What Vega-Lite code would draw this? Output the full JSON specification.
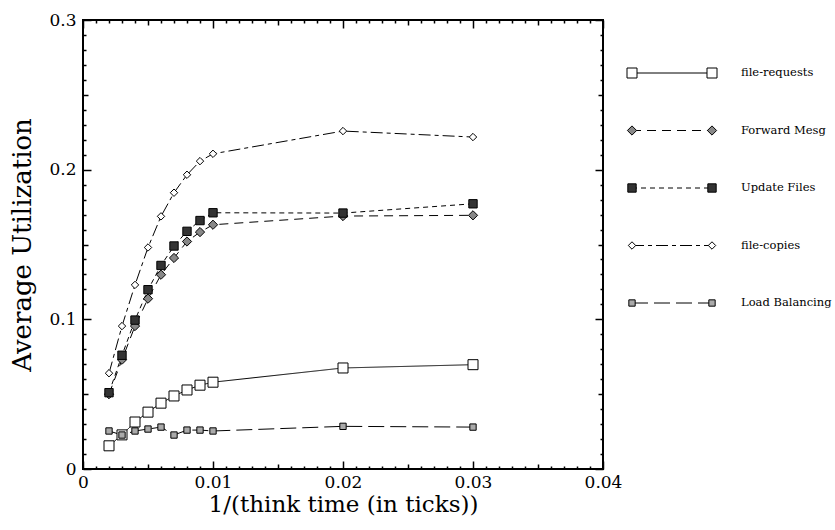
{
  "$schema": "https://vega.github.io/schema/vega-lite/v6.json",
  "background": "white",
  "padding": {"left": 8, "top": 10, "right": 5, "bottom": 5},
  "spacing": 2,
  "config": {
    "font": "DejaVu Serif",
    "view": {"stroke": "black", "strokeWidth": 2},
    "axis": {"grid": false, "domain": false, "labelColor": "black", "titleColor": "black", "tickColor": "black", "labelFont": "DejaVu Serif", "titleFont": "DejaVu Serif", "titleFontWeight": "normal"}
  },
  "datasets": {
    "util": [
      {"series": "file-requests", "x": 0.002, "y": 0.0155},
      {"series": "file-requests", "x": 0.003, "y": 0.0228},
      {"series": "file-requests", "x": 0.004, "y": 0.0314},
      {"series": "file-requests", "x": 0.005, "y": 0.038},
      {"series": "file-requests", "x": 0.006, "y": 0.044},
      {"series": "file-requests", "x": 0.007, "y": 0.0488},
      {"series": "file-requests", "x": 0.008, "y": 0.0528},
      {"series": "file-requests", "x": 0.009, "y": 0.056},
      {"series": "file-requests", "x": 0.01, "y": 0.058},
      {"series": "file-requests", "x": 0.02, "y": 0.0675},
      {"series": "file-requests", "x": 0.03, "y": 0.0697},
      {"series": "Forward Mesg", "x": 0.002, "y": 0.05},
      {"series": "Forward Mesg", "x": 0.003, "y": 0.073},
      {"series": "Forward Mesg", "x": 0.004, "y": 0.0955},
      {"series": "Forward Mesg", "x": 0.005, "y": 0.1138},
      {"series": "Forward Mesg", "x": 0.006, "y": 0.1298},
      {"series": "Forward Mesg", "x": 0.007, "y": 0.141},
      {"series": "Forward Mesg", "x": 0.008, "y": 0.152},
      {"series": "Forward Mesg", "x": 0.009, "y": 0.1583},
      {"series": "Forward Mesg", "x": 0.01, "y": 0.1632},
      {"series": "Forward Mesg", "x": 0.02, "y": 0.169},
      {"series": "Forward Mesg", "x": 0.03, "y": 0.1695},
      {"series": "Update Files", "x": 0.002, "y": 0.051},
      {"series": "Update Files", "x": 0.003, "y": 0.076},
      {"series": "Update Files", "x": 0.004, "y": 0.0995},
      {"series": "Update Files", "x": 0.005, "y": 0.1198},
      {"series": "Update Files", "x": 0.006, "y": 0.136},
      {"series": "Update Files", "x": 0.007, "y": 0.149},
      {"series": "Update Files", "x": 0.008, "y": 0.1588},
      {"series": "Update Files", "x": 0.009, "y": 0.166},
      {"series": "Update Files", "x": 0.01, "y": 0.1712},
      {"series": "Update Files", "x": 0.02, "y": 0.171},
      {"series": "Update Files", "x": 0.03, "y": 0.1772},
      {"series": "file-copies", "x": 0.002, "y": 0.064},
      {"series": "file-copies", "x": 0.003, "y": 0.0955},
      {"series": "file-copies", "x": 0.004, "y": 0.123},
      {"series": "file-copies", "x": 0.005, "y": 0.148},
      {"series": "file-copies", "x": 0.006, "y": 0.1688},
      {"series": "file-copies", "x": 0.007, "y": 0.1846},
      {"series": "file-copies", "x": 0.008, "y": 0.1966},
      {"series": "file-copies", "x": 0.009, "y": 0.2057},
      {"series": "file-copies", "x": 0.01, "y": 0.2106},
      {"series": "file-copies", "x": 0.02, "y": 0.2258},
      {"series": "file-copies", "x": 0.03, "y": 0.2218},
      {"series": "Load Balancing", "x": 0.002, "y": 0.0254},
      {"series": "Load Balancing", "x": 0.003, "y": 0.0227},
      {"series": "Load Balancing", "x": 0.004, "y": 0.0254},
      {"series": "Load Balancing", "x": 0.005, "y": 0.0267},
      {"series": "Load Balancing", "x": 0.006, "y": 0.028},
      {"series": "Load Balancing", "x": 0.007, "y": 0.0227},
      {"series": "Load Balancing", "x": 0.008, "y": 0.026},
      {"series": "Load Balancing", "x": 0.009, "y": 0.026},
      {"series": "Load Balancing", "x": 0.01, "y": 0.0254},
      {"series": "Load Balancing", "x": 0.02, "y": 0.0285},
      {"series": "Load Balancing", "x": 0.03, "y": 0.028}
    ],
    "legend": [
      {"series": "file-requests"},
      {"series": "Forward Mesg"},
      {"series": "Update Files"},
      {"series": "file-copies"},
      {"series": "Load Balancing"}
    ]
  },
  "hconcat": [
    {
      "width": 520,
      "height": 449,
      "data": {"name": "util"},
      "layer": [
        {
          "mark": {"type": "line", "color": "black", "strokeWidth": 1},
          "encoding": {
            "x": {"field": "x", "type": "quantitative", "scale": {"domain": [0, 0.04], "nice": false},
              "axis": {"orient": "top", "title": null, "labels": false, "minExtent": 0, "maxExtent": 0,
                "values": [0,0.001,0.002,0.003,0.004,0.005,0.006,0.007,0.008,0.009,0.01,0.011,0.012,0.013,0.014,0.015,0.016,0.017,0.018,0.019,0.02,0.021,0.022,0.023,0.024,0.025,0.026,0.027,0.028,0.029,0.03,0.031,0.032,0.033,0.034,0.035,0.036,0.037,0.038,0.039,0.04],
                "tickWidth": 1.5,
                "tickSize": {"condition": [{"test": "abs(datum.value*100 - round(datum.value*100)) < 0.001", "value": -8}, {"test": "abs(datum.value*200 - round(datum.value*200)) < 0.001", "value": -5}], "value": -3}}},
            "y": {"field": "y", "type": "quantitative", "scale": {"domain": [0, 0.3], "nice": false},
              "axis": {"orient": "right", "title": null, "labels": false, "minExtent": 0, "maxExtent": 0,
                "values": [0,0.01,0.02,0.03,0.04,0.05,0.06,0.07,0.08,0.09,0.1,0.11,0.12,0.13,0.14,0.15,0.16,0.17,0.18,0.19,0.2,0.21,0.22,0.23,0.24,0.25,0.26,0.27,0.28,0.29,0.3],
                "tickWidth": 1.5,
                "tickSize": {"condition": [{"test": "abs(datum.value*10 - round(datum.value*10)) < 0.001", "value": -8}, {"test": "abs(datum.value*20 - round(datum.value*20)) < 0.001", "value": -5}], "value": -3}}},
            "detail": {"field": "series"},
            "strokeDash": {"field": "series", "type": "nominal", "legend": null,
              "scale": {"domain": ["file-requests", "Forward Mesg", "Update Files", "file-copies", "Load Balancing"],
                "range": [[1, 0], [9, 6], [5, 4], [12, 4, 4, 4], [16, 6]]}}
          }
        },
        {
          "mark": {"type": "point", "filled": true, "stroke": "black", "strokeWidth": 1, "opacity": 1},
          "encoding": {
            "x": {"field": "x", "type": "quantitative",
              "axis": {"orient": "bottom", "title": "1/(think time (in ticks))", "titleFontSize": 23, "titlePadding": -2,
                "values": [0,0.001,0.002,0.003,0.004,0.005,0.006,0.007,0.008,0.009,0.01,0.011,0.012,0.013,0.014,0.015,0.016,0.017,0.018,0.019,0.02,0.021,0.022,0.023,0.024,0.025,0.026,0.027,0.028,0.029,0.03,0.031,0.032,0.033,0.034,0.035,0.036,0.037,0.038,0.039,0.04],
                "labelExpr": "abs(datum.value*100 - round(datum.value*100)) < 0.001 ? (datum.value == 0 ? '0' : format(datum.value, '.2f')) : ''",
                "labelFontSize": 17, "labelPadding": 13, "tickWidth": 1.5, "labelFlush": false, "labelOverlap": false,
                "tickSize": {"condition": [{"test": "abs(datum.value*100 - round(datum.value*100)) < 0.001", "value": -8}, {"test": "abs(datum.value*200 - round(datum.value*200)) < 0.001", "value": -5}], "value": -3}}},
            "y": {"field": "y", "type": "quantitative",
              "axis": {"orient": "left", "title": "Average Utilization", "titleFontSize": 26, "titlePadding": 13,
                "values": [0,0.01,0.02,0.03,0.04,0.05,0.06,0.07,0.08,0.09,0.1,0.11,0.12,0.13,0.14,0.15,0.16,0.17,0.18,0.19,0.2,0.21,0.22,0.23,0.24,0.25,0.26,0.27,0.28,0.29,0.3],
                "labelExpr": "abs(datum.value*10 - round(datum.value*10)) < 0.001 ? (datum.value == 0 ? '0' : format(datum.value, '.1f')) : ''",
                "labelFontSize": 17, "labelPadding": 15, "tickWidth": 1.5, "labelFlush": false, "labelOverlap": false,
                "tickSize": {"condition": [{"test": "abs(datum.value*10 - round(datum.value*10)) < 0.001", "value": -8}, {"test": "abs(datum.value*20 - round(datum.value*20)) < 0.001", "value": -5}], "value": -3}}},
            "shape": {"field": "series", "type": "nominal", "legend": null,
              "scale": {"domain": ["file-requests", "Forward Mesg", "Update Files", "file-copies", "Load Balancing"],
                "range": ["square", "diamond", "square", "diamond", "square"]}},
            "fill": {"field": "series", "type": "nominal", "legend": null,
              "scale": {"domain": ["file-requests", "Forward Mesg", "Update Files", "file-copies", "Load Balancing"],
                "range": ["white", "#888888", "#333333", "white", "#aaaaaa"]}},
            "size": {"field": "series", "type": "nominal", "legend": null,
              "scale": {"domain": ["file-requests", "Forward Mesg", "Update Files", "file-copies", "Load Balancing"],
                "range": [100, 40, 85, 90, 100]}}
          }
        }
      ],
      "resolve": {"axis": {"x": "independent", "y": "independent"}}
    },
    {
      "width": 80,
      "height": 449,
      "view": {"stroke": null},
      "data": {"name": "legend"},
      "encoding": {
        "y": {"field": "series", "type": "nominal", "axis": null,
          "scale": {"type": "point", "padding": 0, "domain": ["file-requests", "Forward Mesg", "Update Files", "file-copies", "Load Balancing"], "range": [53, 283]}}
      },
      "layer": [
        {
          "mark": {"type": "rule", "color": "black", "strokeWidth": 1},
          "encoding": {
            "x": {"datum": 0, "type": "quantitative", "axis": null, "scale": {"domain": [0, 1], "nice": false}},
            "x2": {"datum": 1},
            "strokeDash": {"field": "series", "type": "nominal", "legend": null,
              "scale": {"domain": ["file-requests", "Forward Mesg", "Update Files", "file-copies", "Load Balancing"],
                "range": [[1, 0], [9, 6], [5, 4], [12, 4, 4, 4], [16, 6]]}}
          }
        },
        {
          "mark": {"type": "point", "filled": true, "stroke": "black", "strokeWidth": 1, "opacity": 1},
          "encoding": {
            "x": {"datum": 0, "type": "quantitative"},
            "shape": {"field": "series", "type": "nominal", "legend": null,
              "scale": {"domain": ["file-requests", "Forward Mesg", "Update Files", "file-copies", "Load Balancing"],
                "range": ["square", "diamond", "square", "diamond", "square"]}},
            "fill": {"field": "series", "type": "nominal", "legend": null,
              "scale": {"domain": ["file-requests", "Forward Mesg", "Update Files", "file-copies", "Load Balancing"],
                "range": ["white", "#888888", "#333333", "white", "#aaaaaa"]}},
            "size": {"field": "series", "type": "nominal", "legend": null,
              "scale": {"domain": ["file-requests", "Forward Mesg", "Update Files", "file-copies", "Load Balancing"],
                "range": [80, 36, 70, 70, 80]}}
          }
        },
        {
          "mark": {"type": "point", "filled": true, "stroke": "black", "strokeWidth": 1, "opacity": 1},
          "encoding": {
            "x": {"datum": 1, "type": "quantitative"},
            "shape": {"field": "series", "type": "nominal", "legend": null},
            "fill": {"field": "series", "type": "nominal", "legend": null},
            "size": {"field": "series", "type": "nominal", "legend": null}
          }
        },
        {
          "mark": {"type": "text", "align": "left", "baseline": "middle", "dx": 29, "font": "DejaVu Serif", "fontSize": 11.5, "color": "black"},
          "encoding": {
            "x": {"datum": 1, "type": "quantitative"},
            "text": {"field": "series"}
          }
        }
      ]
    }
  ]
}
